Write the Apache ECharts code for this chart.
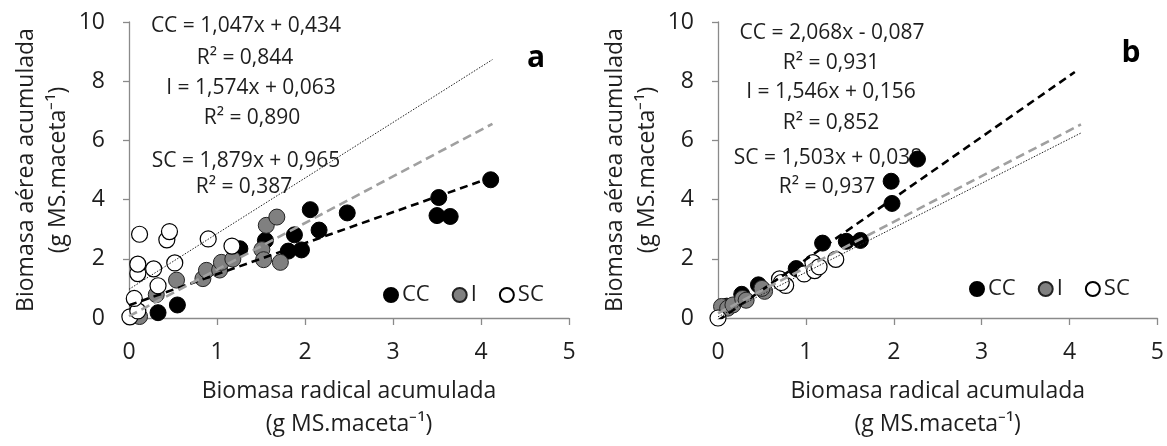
<!DOCTYPE html>
<html>
<head>
<meta charset="utf-8">
<script src="https://cdn.jsdelivr.net/npm/echarts@6/dist/echarts.min.js"></script>
<style>
  html, body { margin: 0; padding: 0; background: #fff; }
  #chart { width: 1167px; height: 446px; }
</style>
</head>
<body>
<div id="chart"></div>
<script>
// panel a: points [x, y]
const ccA = [[0.33, 0.18], [0.55, 0.44], [1.26, 2.34], [1.55, 2.62], [1.88, 2.81], [1.81, 2.26], [1.96, 2.30],
  [2.06, 3.66], [2.16, 2.97], [2.48, 3.55], [3.52, 4.07], [3.50, 3.46], [3.65, 3.43], [4.11, 4.67]]
const iA = [[0.12, 0.05], [0.31, 0.79], [0.54, 1.28], [0.84, 1.33], [0.88, 1.61], [1.03, 1.62], [1.05, 1.88],
  [1.18, 1.99], [1.51, 2.31], [1.53, 1.97], [1.56, 3.13], [1.68, 3.41], [1.72, 1.88]]
const scA = [[0.01, 0.04], [0.10, 0.24], [0.06, 0.66], [0.33, 1.09], [0.10, 1.50], [0.28, 1.66], [0.10, 1.82],
  [0.52, 1.86], [0.43, 2.64], [0.46, 2.92], [0.12, 2.83], [0.90, 2.67], [1.17, 2.43]]

// panel b
const ccB = [[0.10, 0.40], [0.27, 0.80], [0.46, 1.12], [0.89, 1.67], [1.19, 2.53], [1.46, 2.59], [1.62, 2.62],
  [1.98, 3.87], [1.97, 4.62], [2.27, 5.37]]
const iB = [[0.04, 0.39], [0.11, 0.33], [0.17, 0.44], [0.28, 0.66], [0.32, 0.60], [0.53, 0.90], [0.50, 1.00]]
const scB = [[0.00, 0.00], [0.70, 1.32], [0.77, 1.10], [0.72, 1.20], [0.98, 1.49], [1.08, 1.87], [1.10, 1.60],
  [1.15, 1.73], [1.34, 1.98]]

// trend lines (end points)
const trendCcA = [[0, 0.43], [4.13, 4.76]]
const trendIA = [[0, 0.06], [4.13, 6.56]]
const trendScA = [[0, 0.97], [4.13, 8.73]]
const trendCcB = [[0, -0.09], [4.06, 8.31]]
const trendIB = [[0, 0.16], [4.13, 6.54]]
const trendScB = [[0, 0.04], [4.13, 6.25]]

const seriesNames = ['CC', 'I', 'SC']
const eqA = ['CC = 1,047x + 0,434', 'R² = 0,844', 'I = 1,574x + 0,063', 'R² = 0,890', 'SC = 1,879x + 0,965', 'R² = 0,387']
const eqB = ['CC = 2,068x - 0,087', 'R² = 0,931', 'I = 1,546x + 0,156', 'R² = 0,852', 'SC = 1,503x + 0,038', 'R² = 0,937']
const panelLabels = ['a', 'b']
const xTitle = 'Biomasa radical acumulada\n(g MS.maceta⁻¹)'
const yTitle = 'Biomasa aérea acumulada\n(g MS.maceta⁻¹)'

const FONT = 'Open Sans'
const TXT = '#1e1e1e'
const AXIS = '#8a8a8a'

const myChart = echarts.init(document.getElementById('chart'))

const grids = [
  { left: 129, top: 22, width: 440, height: 305.5 },
  { left: 718, top: 22, width: 441, height: 305.5 },
]

function xAxisFor(i) {
  return {
    gridIndex: i, type: 'value', min: 0, max: 5, interval: 1,
    splitLine: { show: false },
    axisLine: { show: true, lineStyle: { color: AXIS, width: 1.3 } },
    axisTick: { show: true, length: 7, lineStyle: { color: AXIS, width: 1.3 } },
    axisLabel: { color: TXT, fontSize: 23, fontFamily: FONT, margin: 23 },
    name: xTitle, nameLocation: 'middle', nameGap: 57,
    nameTextStyle: { color: TXT, fontSize: 23, fontFamily: FONT, lineHeight: 33 },
  }
}
function yAxisFor(i) {
  return {
    gridIndex: i, type: 'value', min: 0, max: 10, interval: 2,
    splitLine: { show: false },
    axisLine: { show: true, lineStyle: { color: AXIS, width: 1.3 } },
    axisTick: { show: true, length: 6, lineStyle: { color: AXIS, width: 1.3 } },
    axisLabel: { color: TXT, fontSize: 23, fontFamily: FONT, margin: 24 },
    name: yTitle, nameLocation: 'middle', nameGap: 54,
    nameTextStyle: { color: TXT, fontSize: 23, fontFamily: FONT, lineHeight: 32 },
  }
}

const markerStyles = [
  { color: '#000', borderColor: '#000', borderWidth: 1, opacity: 1 },
  { color: '#808080', borderColor: '#222', borderWidth: 1, opacity: 1 },
  { color: '#fff', borderColor: '#000', borderWidth: 1.2, opacity: 1 },
]

function scatter(name, data, i, k) {
  return {
    name, type: 'scatter', xAxisIndex: i, yAxisIndex: i, data,
    symbolSize: 16, itemStyle: markerStyles[k], z: 2, silent: true,
  }
}
function trend(data, i, style) {
  return {
    type: 'line', xAxisIndex: i, yAxisIndex: i, data, symbol: 'none',
    lineStyle: style, z: 3, silent: true,
  }
}

const blackDash = { color: '#000', width: 2.6, type: [8, 5] }
const greyDash = { color: '#a0a0a0', width: 2.6, type: [9, 5] }
const dotted = { color: '#222', width: 1, type: [1.5, 1.5] }

// equation text positions (pixel centres)
const eqPosA = [[246, 26], [245, 58], [251, 88], [252, 118], [246, 161], [244, 187]]
const eqPosB = [[832, 33], [831, 63], [831, 92], [831, 123], [828, 158], [827, 187]]

const graphics = []
eqA.forEach((t, k) => graphics.push({
  type: 'text', silent: true,
  style: { text: t, x: eqPosA[k][0], y: eqPosA[k][1], textAlign: 'center', textVerticalAlign: 'middle',
    fontSize: 21, fontFamily: FONT, fill: TXT },
}))
eqB.forEach((t, k) => graphics.push({
  type: 'text', silent: true,
  style: { text: t, x: eqPosB[k][0], y: eqPosB[k][1], textAlign: 'center', textVerticalAlign: 'middle',
    fontSize: 21, fontFamily: FONT, fill: TXT },
}))
const labelPos = [[536, 58], [1131, 53]]
panelLabels.forEach((t, k) => graphics.push({
  type: 'text', silent: true,
  style: { text: t, x: labelPos[k][0], y: labelPos[k][1], textAlign: 'center', textVerticalAlign: 'middle',
    fontSize: 30, fontWeight: 'bold', fontFamily: FONT, fill: '#000' },
}))

function legendFor(left, top) {
  return {
    left, top, data: seriesNames, icon: 'circle', itemWidth: 14, itemHeight: 14, itemGap: 22,
    selectedMode: false,
    textStyle: { color: TXT, fontSize: 22, fontFamily: FONT, padding: [0, 0, 0, -1] },
  }
}

const options = {
  animation: false,
  backgroundColor: '#fff',
  grid: grids,
  xAxis: [xAxisFor(0), xAxisFor(1)],
  yAxis: [yAxisFor(0), yAxisFor(1)],
  legend: [legendFor(378, 279), legendFor(964, 273)],
  graphic: graphics,
  series: [
    scatter('CC', ccA, 0, 0),
    scatter('I', iA, 0, 1),
    scatter('SC', scA, 0, 2),
    trend(trendCcA, 0, blackDash),
    trend(trendIA, 0, greyDash),
    trend(trendScA, 0, dotted),
    scatter('CC', ccB, 1, 0),
    scatter('I', iB, 1, 1),
    scatter('SC', scB, 1, 2),
    trend(trendCcB, 1, blackDash),
    trend(trendIB, 1, greyDash),
    trend(trendScB, 1, dotted),
  ],
}
myChart.setOption(options)
</script>
</body>
</html>
